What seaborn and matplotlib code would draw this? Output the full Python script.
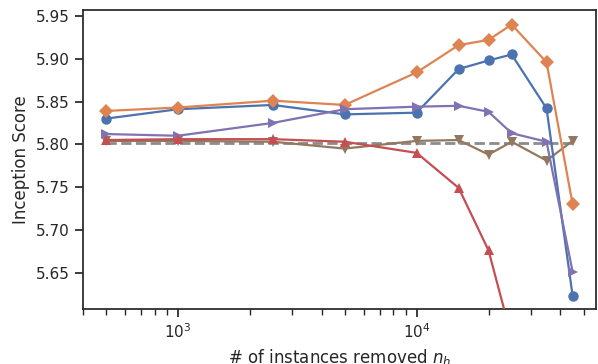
import numpy as np
import pandas as pd
import matplotlib
matplotlib.use("Agg")
import matplotlib.pyplot as plt
import seaborn as sns

n_removed = [500, 1000, 2500, 5000, 10000, 15000, 20000, 25000, 35000, 45000]
blue_vals = [5.830, 5.841, 5.846, 5.835, 5.837, 5.888, 5.898, 5.905, 5.842, 5.623]
orange_vals = [5.839, 5.843, 5.851, 5.846, 5.884, 5.916, 5.922, 5.940, 5.896, 5.730]
purple_vals = [5.812, 5.810, 5.825, 5.841, 5.844, 5.845, 5.838, 5.813, 5.803, 5.651]
red_vals = [5.805, 5.806, 5.806, 5.803, 5.790, 5.749, 5.676, 5.574, np.nan, np.nan]
brown_vals = [5.804, 5.804, 5.803, 5.795, 5.804, 5.805, 5.788, 5.803, 5.781, 5.804]
baseline = 5.8015

sns.set_theme(style="ticks", context="notebook", palette="deep")
pal = sns.color_palette("deep")

fig, ax = plt.subplots(figsize=(5.98, 3.64), dpi=100)
fig.subplots_adjust(left=0.138, right=0.9967, top=0.9725, bottom=0.150)

ax.set_xscale("log")

sns.lineplot(x=n_removed, y=[baseline] * len(n_removed), ax=ax, color=pal[7],
             linestyle="--", linewidth=2, zorder=2)

series = [
    (brown_vals, pal[5], "v"),
    (blue_vals, pal[0], "o"),
    (orange_vals, pal[1], "D"),
    (purple_vals, pal[4], ">"),
    (red_vals, pal[3], "^"),
]
for vals, col, mk in series:
    df = pd.DataFrame({"n": n_removed, "v": vals}).dropna()
    sns.lineplot(data=df, x="n", y="v", ax=ax, color=col, marker=mk,
                 markersize=7.5, markeredgewidth=0, linewidth=1.6, zorder=3)

ax.set_xlim(399, 56400)
ax.set_ylim(5.607, 5.957)
ax.set_yticks([5.65, 5.70, 5.75, 5.80, 5.85, 5.90, 5.95])
ax.set_xlabel("# of instances removed $n_h$")
ax.set_ylabel("Inception Score")

fig.savefig("out.png", dpi=100)
